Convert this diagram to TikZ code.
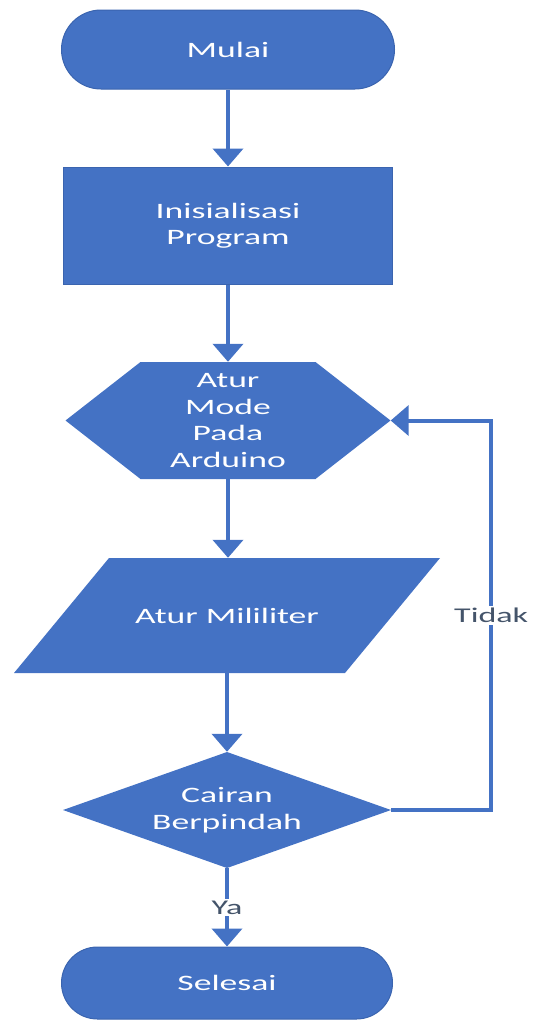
\documentclass[tikz,border=0pt]{standalone}
\usepackage{fontspec}
\setmainfont{Carlito}[FakeStretch=1.62]
\usetikzlibrary{shapes.geometric,arrows.meta}
\definecolor{biru}{HTML}{4472C4}
\definecolor{biruTua}{HTML}{3A64AF}
\definecolor{abuTeks}{HTML}{44546A}
% bentuk bebas, diisi lewat path picture
\def\bb{path picture bounding box}
\tikzset{
	blok/.style={fill=biru,draw=biruTua,line width=1pt,text=white,
		font=\fontsize{22}{26.5}\selectfont,align=center,inner sep=0pt},
	blokKosong/.style={rectangle,text=white,
		font=\fontsize{22}{26.5}\selectfont,align=center,inner sep=0pt},
	terminal/.style={blok,rectangle,rounded corners=#1},
	proses/.style={blok,rectangle},
	persiapan/.style={blokKosong,path picture={
		\fill[biru] (\bb.west) -- ([xshift=#1]\bb.north west)
			-- ([xshift=-#1]\bb.north east) -- (\bb.east)
			-- ([xshift=-#1]\bb.south east) -- ([xshift=#1]\bb.south west) -- cycle;}},
	masukan/.style={blokKosong,path picture={
		\fill[biru] ([xshift=#1]\bb.north west) -- (\bb.north east)
			-- ([xshift=-#1]\bb.south east) -- (\bb.south west) -- cycle;}},
	keputusan/.style={blokKosong,path picture={
		\fill[biru] (\bb.north) -- (\bb.east) -- (\bb.south) -- (\bb.west) -- cycle;}},
	garis/.style={draw=biru,line width=4pt,-{Triangle[width=30pt,length=18pt]}},
	ket/.style={fill=white,text=abuTeks,inner sep=2pt,
		font=\fontsize{21}{25}\selectfont}
}
\begin{document}
\begin{tikzpicture}[x=1pt,y=1pt]
	\useasboundingbox (0,0) rectangle (535,-1023);
	% node utama
	\node[terminal=39.5pt,minimum width=333pt,minimum height=79pt] (mulai) at (228,-49.5) {Mulai};
	\node[proses,minimum width=329pt,minimum height=117pt] (init) at (228,-225.5) {Inisialisasi\\Program};
	\node[persiapan=75pt,minimum width=325pt,minimum height=117pt] (atur) at (228,-420.5) {Atur\\Mode\\Pada\\Arduino};
	\node[masukan=95pt,minimum width=426pt,minimum height=115pt] (ml) at (227,-615.5) {Atur Mililiter};
	\node[keputusan,minimum width=328pt,minimum height=116pt] (cair) at (227,-810) {Cairan\\Berpindah};
	\node[terminal=36pt,minimum width=331pt,minimum height=72pt] (selesai) at (227,-983) {Selesai};
	% panah
	\draw[garis] (mulai) -- (init);
	\draw[garis] (init) -- (atur);
	\draw[garis] (atur) -- (atur|-ml.north);
	\draw[garis] (ml.south-|cair) -- (cair);
	\draw[garis] (cair) -- node[ket] (ya) {Ya} (selesai);
	\draw[garis] (cair.east) -- ++(100,0) |- node[ket,pos=0.25] (tidak) {Tidak} (atur.east);
\end{tikzpicture}
\end{document}
